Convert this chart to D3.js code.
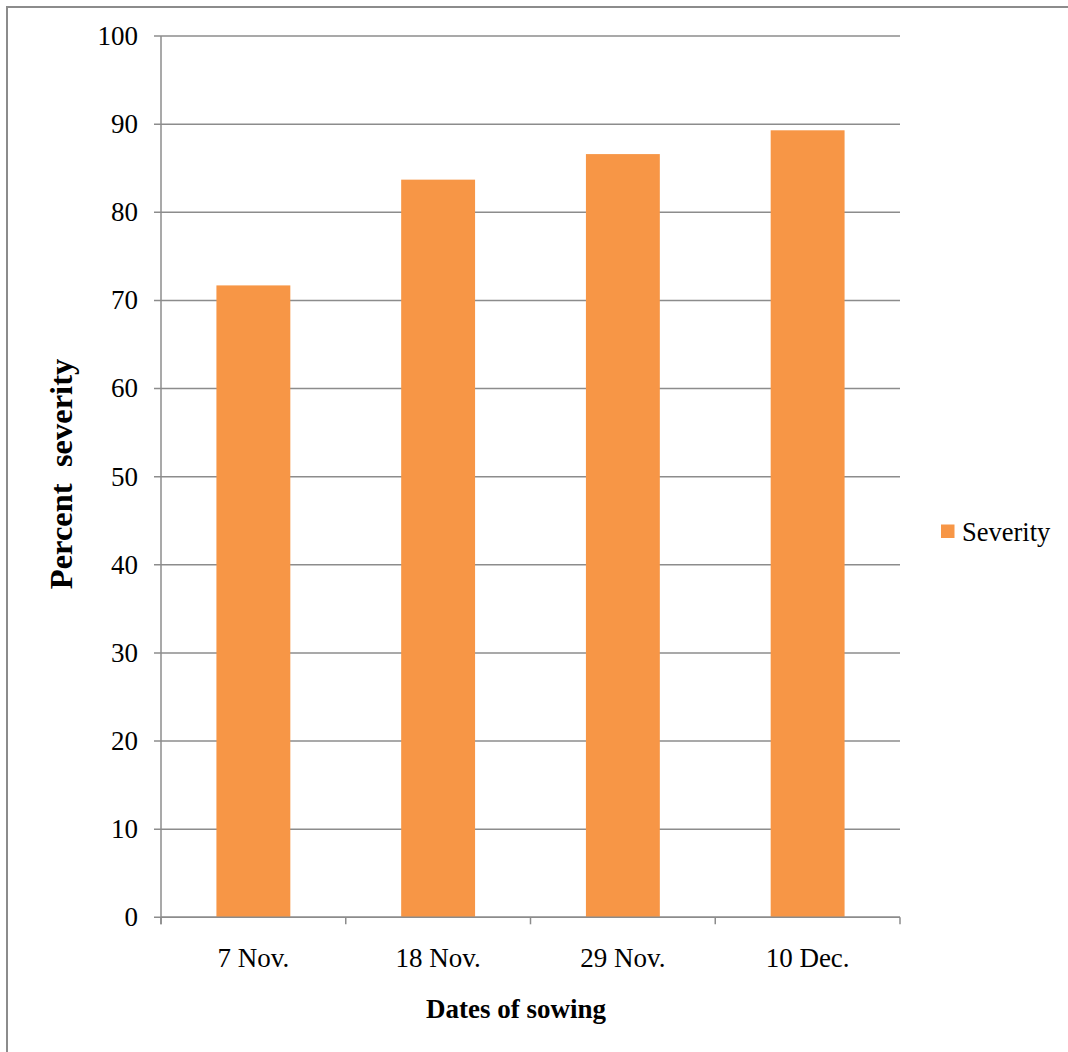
<!DOCTYPE html>
<html>
<head>
<meta charset="utf-8">
<script src="https://cdn.jsdelivr.net/npm/d3@7"></script>
<style>
  html, body { margin: 0; padding: 0; background: #fff; }
  svg { display: block; }
  text { font-family: "Liberation Serif", "Times New Roman", serif; fill: #000; }
</style>
</head>
<body>
<svg id="chart" width="1068" height="1052"></svg>
<script>
// Sowing dates and the measured disease severity (%)
const categories = ["7 Nov.", "18 Nov.", "29 Nov.", "10 Dec."];
const severity = [71.7, 83.7, 86.6, 89.3];
const yTicks = [0, 10, 20, 30, 40, 50, 60, 70, 80, 90, 100];
const seriesName = "Severity";

const svg = d3.select("#chart");
const gridColor = "#8c8c8c";
const barColor = "#F79646";

const plot = { left: 161, right: 900, top: 36, bottom: 917.3 };

// Outer frame (left and top edges)
svg.append("path")
  .attr("d", "M7,1052 V7 H1068")
  .attr("fill", "none")
  .attr("stroke", gridColor)
  .attr("stroke-width", 2);

const x = d3.scaleBand()
  .domain(categories)
  .range([plot.left, plot.right])
  .paddingInner(0.6)
  .paddingOuter(0.3);

const y = d3.scaleLinear()
  .domain([0, 100])
  .range([plot.bottom, plot.top]);

// Horizontal gridlines with left tick extension
svg.append("g")
  .selectAll("line")
  .data(yTicks)
  .join("line")
  .attr("x1", plot.left - 7)
  .attr("x2", plot.right)
  .attr("y1", d => y(d))
  .attr("y2", d => y(d))
  .attr("stroke", gridColor)
  .attr("stroke-width", 1.5);

// Y tick labels
svg.append("g")
  .selectAll("text")
  .data(yTicks)
  .join("text")
  .attr("x", plot.left - 23)
  .attr("y", d => y(d))
  .attr("dy", "0.33em")
  .attr("text-anchor", "end")
  .attr("font-size", 27)
  .text(d => d);

// Bars
svg.append("g")
  .selectAll("rect")
  .data(severity)
  .join("rect")
  .attr("x", (d, i) => x(categories[i]))
  .attr("width", x.bandwidth())
  .attr("y", d => y(d))
  .attr("height", d => y(0) - y(d))
  .attr("fill", barColor);

// Y axis line
svg.append("line")
  .attr("x1", plot.left).attr("x2", plot.left)
  .attr("y1", plot.top).attr("y2", plot.bottom + 7)
  .attr("stroke", gridColor)
  .attr("stroke-width", 1.5);

// X axis line and category boundary ticks
svg.append("line")
  .attr("x1", plot.left).attr("x2", plot.right)
  .attr("y1", plot.bottom).attr("y2", plot.bottom)
  .attr("stroke", gridColor)
  .attr("stroke-width", 1.5);

const boundaries = categories.map((c, i) => plot.left + i * x.step());
boundaries.push(plot.right);
svg.append("g")
  .selectAll("line")
  .data(boundaries)
  .join("line")
  .attr("x1", d => d).attr("x2", d => d)
  .attr("y1", plot.bottom).attr("y2", plot.bottom + 7)
  .attr("stroke", gridColor)
  .attr("stroke-width", 1.5);

// Category labels
svg.append("g")
  .selectAll("text")
  .data(categories)
  .join("text")
  .attr("x", d => x(d) + x.bandwidth() / 2)
  .attr("y", 967)
  .attr("text-anchor", "middle")
  .attr("font-size", 27)
  .text(d => d);

// Axis titles
svg.append("text")
  .attr("x", 516)
  .attr("y", 1018)
  .attr("text-anchor", "middle")
  .attr("font-size", 27)
  .attr("font-weight", "bold")
  .text("Dates of sowing");

svg.append("text")
  .attr("transform", "translate(72,474) rotate(-90)")
  .attr("text-anchor", "middle")
  .attr("font-size", 32.5)
  .attr("font-weight", "bold")
  .attr("xml:space", "preserve")
  .style("white-space", "pre")
  .text("Percent  severity");

// Legend
const legend = svg.append("g").attr("transform", "translate(941,524.5)");
legend.append("rect")
  .attr("width", 13.5).attr("height", 13.5)
  .attr("fill", barColor);
legend.append("text")
  .attr("x", 21)
  .attr("y", 7)
  .attr("dy", "0.35em")
  .attr("font-size", 26.5)
  .text(seriesName);
</script>
</body>
</html>
